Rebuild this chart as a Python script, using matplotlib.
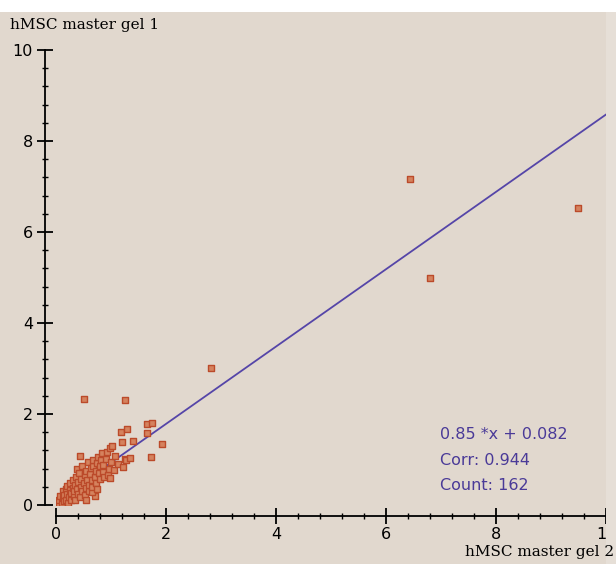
import numpy as np
import matplotlib.pyplot as plt
from matplotlib.patches import Rectangle
from matplotlib.ticker import MultipleLocator

# spot volumes, gel 2 (x) vs gel 1 (y)
gel2 = [0.02, 0.05, 0.06, 0.08, 0.10, 0.12, 0.12, 0.15, 0.15, 0.18, 0.18, 0.20, 0.20, 0.22, 0.24,
        0.25, 0.26, 0.28, 0.28, 0.30,
        0.30, 0.32, 0.33, 0.35, 0.35, 0.37, 0.38, 0.38, 0.40, 0.40, 0.42, 0.43, 0.44, 0.45, 0.46,
        0.48, 0.48, 0.50, 0.51, 0.52, 0.53, 0.55, 0.55, 0.57, 0.58, 0.60, 0.60, 0.55, 0.70,
        0.62, 0.63, 0.65, 0.65, 0.66, 0.67, 0.68, 0.70, 0.72, 0.72, 0.74, 0.75, 0.76, 0.78, 0.80,
        0.80, 0.82, 0.84, 0.85, 0.86, 0.88, 0.90, 0.93, 0.95, 0.96, 0.98, 0.98, 1.00,
        1.02, 1.05, 1.08, 1.12, 1.18, 1.20, 1.22, 1.25, 1.25, 1.27, 1.29, 1.35, 1.40, 1.65,
        1.65, 1.73, 1.75, 1.93,
        2.82, 6.44, 6.80, 9.49]
gel1 = [0.05, 0.02, 0.12, 0.20, 0.05, 0.15, 0.30, 0.08, 0.22, 0.35, 0.12, 0.25, 0.42, 0.05, 0.18,
        0.32, 0.48, 0.10, 0.26, 0.38,
        0.55, 0.20, 0.30, 0.45, 0.12, 0.62, 0.36, 0.79, 0.25, 0.50, 0.70, 0.18, 1.08, 0.40, 0.58,
        0.30, 0.85, 0.48, 2.33, 0.65, 0.22, 0.38, 0.75, 0.55, 0.95, 0.30, 0.45, 0.12, 0.20,
        0.68, 0.82, 0.55, 0.29, 0.40, 0.86, 1.00, 0.62, 0.75, 0.48, 0.92, 0.35, 1.05, 0.70, 0.85,
        0.58, 0.98, 1.14, 0.88, 0.72, 0.62, 1.02, 1.17, 0.66, 0.80, 1.25, 0.59, 0.95,
        1.30, 0.78, 1.08, 0.90, 1.60, 1.38, 0.84, 1.01, 2.30, 0.99, 1.67, 1.03, 1.41, 1.58,
        1.78, 1.05, 1.80, 1.34,
        3.01, 7.16, 4.99, 6.53]

slope = 0.85
intercept = 0.082
corr = 0.944
count = 162

beige = '#e1d8ce'
fig = plt.figure(figsize=(6.16, 5.64), dpi=100, facecolor=beige)
fig.patches.append(Rectangle((0, 552 / 564), 1, 12 / 564, transform=fig.transFigure,
                             facecolor='white', edgecolor='none', zorder=0))
fig.patches.append(Rectangle((606 / 616, 0), 10 / 616, 552 / 564, transform=fig.transFigure,
                             facecolor='#e6dfd7', edgecolor='none', zorder=0))

ax = fig.add_axes([56 / 616, 59 / 564, 550 / 616, 455 / 564])
ax.set_facecolor('none')

xs = np.array([0, 10])
ax.plot(xs, slope * xs + intercept, color='#5545a8', lw=1.3, zorder=2)
ax.scatter(gel2, gel1, marker='s', s=13, facecolor='#d5825e', edgecolor='#bb4a2a',
           linewidths=1.0, zorder=3)

ax.set_xlim(0, 10)
ax.set_ylim(0, 10)
for s in ['top', 'right']:
    ax.spines[s].set_visible(False)
for s in ['left', 'bottom']:
    ax.spines[s].set_position(('outward', 8))
    ax.spines[s].set_linewidth(1.3)
ax.xaxis.set_major_locator(MultipleLocator(2))
ax.yaxis.set_major_locator(MultipleLocator(2))
ax.xaxis.set_minor_locator(MultipleLocator(0.4))
ax.yaxis.set_minor_locator(MultipleLocator(0.4))
ax.tick_params(which='major', direction='inout', length=11, width=1.3, labelsize=11.5, pad=3)
ax.tick_params(which='minor', direction='inout', length=5, width=1.0)
ax.tick_params(axis='x', which='major', pad=2)

fig.text(10 / 616, 1 - 25 / 564, 'hMSC master gel 1', family='DejaVu Serif', fontsize=11,
         ha='left', va='center')
fig.text(614 / 616, 1 - 552 / 564, 'hMSC master gel 2', family='DejaVu Serif', fontsize=11,
         ha='right', va='center')

tc = '#4a3a98'
ax.text(0.698, 0.154, f'{slope} *x + {intercept}', transform=ax.transAxes, color=tc,
        fontsize=11.5, va='center')
ax.text(0.698, 0.097, f'Corr: {corr}', transform=ax.transAxes, color=tc, fontsize=11.5,
        va='center')
ax.text(0.698, 0.042, f'Count: {count}', transform=ax.transAxes, color=tc, fontsize=11.5,
        va='center')

fig.savefig('out.png', dpi=100, facecolor=fig.get_facecolor())
